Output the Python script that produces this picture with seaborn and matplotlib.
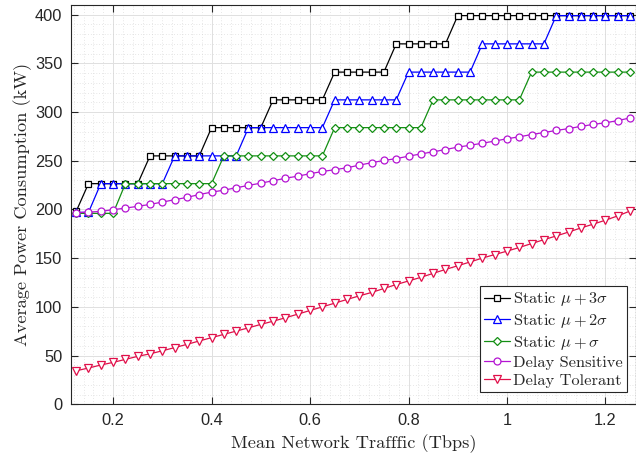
import matplotlib
matplotlib.use("Agg")
import matplotlib.pyplot as plt
import seaborn as sns
import pandas as pd
from matplotlib.ticker import MultipleLocator

# ---------------- data ----------------
traffic = [0.125, 0.150, 0.175, 0.200, 0.225, 0.250, 0.275, 0.300, 0.325, 0.350,
           0.375, 0.400, 0.425, 0.450, 0.475, 0.500, 0.525, 0.550, 0.575, 0.600,
           0.625, 0.650, 0.675, 0.700, 0.725, 0.750, 0.775, 0.800, 0.825, 0.850,
           0.875, 0.900, 0.925, 0.950, 0.975, 1.000, 1.025, 1.050, 1.075, 1.100,
           1.125, 1.150, 1.175, 1.200, 1.225, 1.250]

static_3sigma = [198,
                 226.5, 226.5, 226.5, 226.5, 226.5,
                 255, 255, 255, 255, 255,
                 284, 284, 284, 284, 284,
                 312.5, 312.5, 312.5, 312.5, 312.5,
                 341, 341, 341, 341, 341,
                 370, 370, 370, 370, 370,
                 399, 399, 399, 399, 399, 399, 399, 399, 399, 399, 399, 399, 399, 399, 399]

static_2sigma = [197, 197,
                 226.5, 226.5, 226.5, 226.5, 226.5, 226.5,
                 255, 255, 255, 255, 255, 255,
                 284, 284, 284, 284, 284, 284, 284,
                 312.5, 312.5, 312.5, 312.5, 312.5, 312.5,
                 341, 341, 341, 341, 341, 341,
                 370, 370, 370, 370, 370, 370,
                 399, 399, 399, 399, 399, 399, 399]

static_1sigma = [196, 196, 196, 196,
                 226.5, 226.5, 226.5, 226.5, 226.5, 226.5, 226.5, 226.5,
                 255, 255, 255, 255, 255, 255, 255, 255, 255,
                 284, 284, 284, 284, 284, 284, 284, 284,
                 312.5, 312.5, 312.5, 312.5, 312.5, 312.5, 312.5, 312.5,
                 341, 341, 341, 341, 341, 341, 341, 341, 341]

delay_sensitive = [196.7, 197.3, 198.0, 199.8, 201.4, 203.2, 205.2, 207.6, 210.0, 212.4,
                   215.3, 217.8, 219.8, 222.3, 224.7, 227.0, 229.5, 232.0, 234.2, 236.7,
                   239.0, 240.8, 242.8, 245.5, 248.0, 250.3, 252.2, 254.7, 257.0, 259.2,
                   261.5, 264.0, 265.9, 268.0, 270.2, 272.6, 274.6, 276.9, 279.0, 281.1,
                   283.0, 285.3, 287.3, 289.0, 291.2, 294.0]

delay_tolerant = [34.4, 37.2, 40.3, 43.0, 46.1, 49.2, 51.8, 54.9, 58.2, 61.5,
                  65.0, 68.4, 71.8, 75.1, 78.5, 82.0, 85.3, 88.8, 92.5, 96.3,
                  100.0, 103.8, 107.6, 111.3, 114.8, 118.9, 122.9, 126.6, 130.3, 134.4,
                  138.4, 142.2, 146.1, 150.1, 153.7, 157.2, 161.0, 165.0, 169.0, 172.8,
                  176.8, 181.0, 184.9, 189.0, 193.4, 198.4]

labels = [r"Static $\mu+3\sigma$", r"Static $\mu+2\sigma$", r"Static $\mu+\sigma$",
          "Delay Sensitive", "Delay Tolerant"]
series = [static_3sigma, static_2sigma, static_1sigma, delay_sensitive, delay_tolerant]
colors = ["#000000", "#0000ff", "#138f13", "#b414d2", "#e0104a"]
markers = ["s", "^", "D", "o", "v"]
msizes = [4.0, 5.2, 4.0, 5.0, 5.2]

# ---------------- style ----------------
sns.set_theme(style="white")
plt.rcParams["font.family"] = ["Liberation Sans", "DejaVu Sans"]
plt.rcParams["mathtext.fontset"] = "cm"
plt.rcParams["axes.unicode_minus"] = False

fig = plt.figure(figsize=(6.36, 4.58), dpi=100)
ax = fig.add_axes([0.111, 0.1173, 0.889, 0.872])

for lab, ys, c, m, ms in zip(labels, series, colors, markers, msizes):
    df = pd.DataFrame({"x": traffic, "y": ys})
    sns.lineplot(data=df, x="x", y="y", ax=ax, color=c, marker=m,
                 markersize=ms, markerfacecolor="white", markeredgecolor=c,
                 markeredgewidth=0.9, linewidth=0.9, label=lab)

ax.set_xlim(0.1137, 1.262)
ax.set_ylim(0, 410)
ax.xaxis.set_minor_locator(MultipleLocator(0.02))
ax.yaxis.set_major_locator(MultipleLocator(50))
ax.yaxis.set_minor_locator(MultipleLocator(10))
ax.set_xticks([0.2, 0.4, 0.6, 0.8, 1.0, 1.2])
ax.set_xticklabels(["0.2", "0.4", "0.6", "0.8", "1", "1.2"])

ax.grid(which="major", color="#e0e0e0", linewidth=0.7, linestyle="-")
ax.grid(which="minor", color="#d0d0d0", linewidth=0.5, linestyle=(0, (1, 3)))
ax.set_axisbelow(True)

ax.tick_params(which="major", direction="in", length=5, width=0.8,
               top=True, right=True, bottom=True, left=True,
               labelsize=11.8, colors="#262626", pad=6)
ax.tick_params(which="minor", length=0)
for s in ax.spines.values():
    s.set_color("#262626")
    s.set_linewidth(0.8)

ax.set_xlabel("Mean Network Trafffic (Tbps)", fontfamily="cmr10",
              fontsize=13.2, color="#262626", labelpad=5)
ax.set_ylabel("Average Power Consumption (kW)", fontfamily="cmr10",
              fontsize=13.2, color="#262626", labelpad=2)

leg = ax.legend(loc="lower right", bbox_to_anchor=(0.984, 0.031),
                prop={"family": "cmr10", "size": 11.8},
                frameon=True, fancybox=False, edgecolor="#262626",
                framealpha=1, handlelength=1.6, handletextpad=0.2,
                labelspacing=0.22, borderpad=0.25, borderaxespad=0.0)
leg.get_frame().set_linewidth(0.8)

fig.savefig("out.png", dpi=100)
